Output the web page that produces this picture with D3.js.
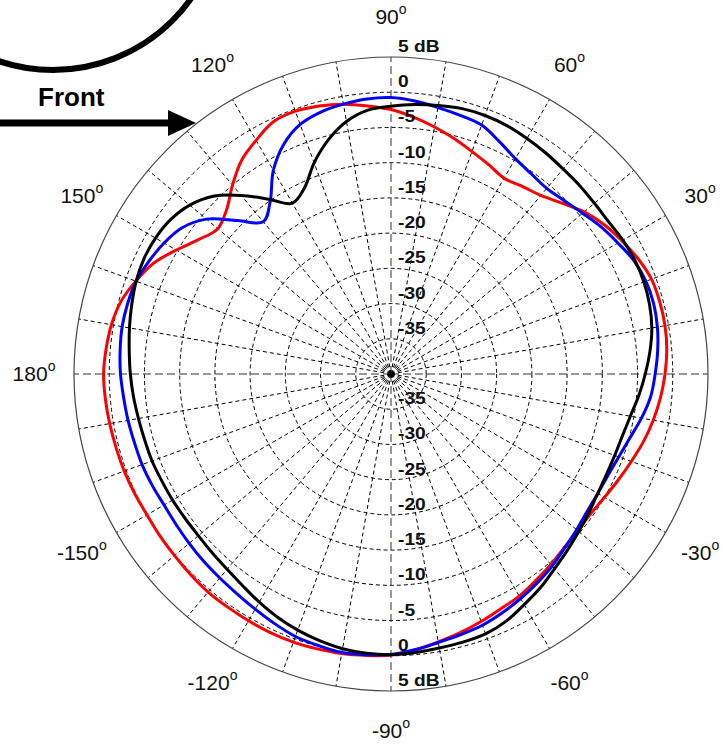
<!DOCTYPE html>
<html>
<head>
<meta charset="utf-8">
<script src="https://cdn.jsdelivr.net/npm/d3@7"></script>
<style>
  body { margin: 0; background: #fff; }
  svg { display: block; font-family: Arial, "Liberation Sans", sans-serif; }
</style>
</head>
<body>
<div id="chart"></div>
<script>
'use strict';

// measurement angles (deg, counter-clockwise from the right)
const angles = [0, 5, 10, 15, 20, 25, 30, 35, 40, 45, 50, 55, 60, 65, 70, 75, 80, 85,
  90, 95, 100, 105, 110, 115, 120, 125, 130, 135, 140, 145, 150, 155, 160, 165, 170, 175,
  180, 185, 190, 195, 200, 205, 210, 215, 220, 225, 230, 235, 240, 245, 250, 255, 260, 265,
  270, 275, 280, 285, 290, 295, 300, 305, 310, 315, 320, 325, 330, 335, 340, 345, 350, 355];

// levels in dB, one per angle
const redDb = [-1.1, -0.7, -0.5, -0.5, -0.65, -1.3, -2.15, -3.05, -4.2, -5.7, -6.9, -7.5,
  -7.9, -7.2, -6.4, -5.4, -4.4, -3.4, -2.45, -1.8, -1.1, -0.6, -0.3, -0.5, -1.7, -3.0,
  -5.0, -7.0, -7.9, -6.7, -4.8, -2.8, -1.45, -0.3, 0.3, 0.6, 0.8, 0.7, 0.55, 0.4,
  0.3, 0.15, 0.0, 0.05, 0.1, 0.25, 0.4, 0.4, 0.45, 0.5, 0.5, 0.4, 0.3, 0.1,
  -0.1, -0.7, -1.4, -2.0, -2.6, -3.2, -3.6, -4.2, -4.7, -5.2, -5.4, -5.4, -5.0, -4.4,
  -3.7, -2.9, -2.2, -1.6];

const blueDb = [-2.5, -2.0, -1.6, -1.4, -1.5, -1.95, -2.8, -3.6, -4.5, -5.2, -5.6, -5.3,
  -4.7, -3.6, -2.4, -2.0, -1.6, -1.1, -0.75, -0.8, -1.1, -1.5, -2.3, -4.0, -6.6, -10.1,
  -11.8, -9.2, -5.8, -3.8, -2.8, -2.1, -1.5, -1.3, -1.25, -1.4, -1.6, -1.9, -2.1, -2.3,
  -2.4, -2.6, -2.8, -2.75, -2.6, -2.4, -2.2, -1.9, -1.45, -0.9, -0.35, -0.1, 0.15, 0.0,
  -0.2, -0.7, -1.3, -1.7, -2.05, -2.6, -3.2, -3.8, -4.4, -5.1, -5.6, -6.0, -6.1, -6.0,
  -5.6, -4.9, -3.9, -3.0];

const blackDb = [-3.9, -3.1, -2.4, -2.0, -1.8, -1.8, -2.0, -2.3, -2.3, -2.15, -2.0, -1.7,
  -1.4, -1.1, -0.95, -1.0, -1.3, -1.6, -2.0, -2.4, -3.6, -5.6, -8.1, -10.9, -12.0, -9.7,
  -6.9, -4.3, -2.7, -1.8, -1.4, -1.3, -1.5, -1.9, -2.3, -2.7, -3.0, -3.3, -3.6, -3.8,
  -3.9, -4.1, -4.2, -4.3, -4.3, -4.1, -3.8, -3.3, -2.6, -1.9, -1.3, -0.8, -0.4, -0.2,
  -0.15, -0.3, -0.5, -0.6, -0.75, -1.3, -2.2, -3.0, -3.9, -4.6, -5.2, -5.7, -6.1, -6.25,
  -6.2, -6.0, -5.5, -4.7];

// ring values and their labels
const dbRings = [5, 0, -5, -10, -15, -20, -25, -30, -35];
const dbLabels = ['5 dB', '0', '-5', '-10', '-15', '-20', '-25', '-30', '-35'];

// angle tick labels (the 0 label falls outside the picture)
const angleTicks = [30, 60, 90, 120, 150, 180, -150, -120, -90, -60, -30];

(function() {

  const width = 723;
  const height = 748;
  const cx = 391;
  const cy = 374;
  const rad = Math.PI / 180;

  let svg = null;
  let rScale = null;

  window.onload = function() {
    svg = d3.select('#chart')
      .append('svg')
      .attr('width', width)
      .attr('height', height);

    rScale = d3.scaleLinear()
      .domain([-40, 5])
      .range([0, 317]);

    drawDevice();
    let plot = svg.append('g').attr('transform', `translate(${cx}, ${cy})`);
    drawGrid(plot);
    drawCurves(plot);
    drawLabels(plot);
  };

  // the loudspeaker outline and "Front" arrow in the corner
  function drawDevice() {
    svg.append('circle')
      .attr('cx', 53)
      .attr('cy', -99)
      .attr('r', 169)
      .attr('fill', 'none')
      .attr('stroke', '#000')
      .attr('stroke-width', 6);

    svg.append('line')
      .attr('x1', 0).attr('y1', 123)
      .attr('x2', 172).attr('y2', 123)
      .attr('stroke', '#000')
      .attr('stroke-width', 7);

    svg.append('path')
      .attr('d', 'M168,110 L196,123 L168,136 Z')
      .attr('fill', '#000');

    svg.append('text')
      .attr('x', 38)
      .attr('y', 106)
      .style('font-size', '26px')
      .style('font-weight', 'bold')
      .text('Front');
  }

  // dashed rings and spokes
  function drawGrid(g) {
    let outer = rScale(5);

    g.selectAll('.ring')
      .data(dbRings.filter((d) => d < 5))
      .enter()
      .append('circle')
        .attr('r', (d) => rScale(d))
        .attr('fill', 'none')
        .attr('stroke', '#000')
        .attr('stroke-width', 1)
        .attr('stroke-dasharray', '4,3');

    let spokes = d3.range(0, 360, 10);
    g.selectAll('.spoke')
      .data(spokes)
      .enter()
      .append('line')
        .attr('x1', 0)
        .attr('y1', 0)
        .attr('x2', (d) => outer * Math.cos(d * rad))
        .attr('y2', (d) => -outer * Math.sin(d * rad))
        .attr('stroke', (d) => d % 90 === 0 ? '#333' : '#000')
        .attr('stroke-width', 1)
        .attr('stroke-dasharray', (d) => d % 90 === 0 ? '8,4' : '4,3');

    g.append('circle')
      .attr('r', outer)
      .attr('fill', 'none')
      .attr('stroke', '#444')
      .attr('stroke-width', 1.2);
  }

  // the three polar responses
  function drawCurves(g) {
    let line = d3.lineRadial()
      .angle((d) => (90 - d.angle) * rad)
      .radius((d) => rScale(d.db))
      .curve(d3.curveCatmullRomClosed.alpha(0.5));

    let series = [
      { color: '#ff0000', values: redDb },
      { color: '#0000ff', values: blueDb },
      { color: '#000000', values: blackDb }
    ];

    series.forEach((s) => {
      let pts = angles.map((a, i) => ({ angle: a, db: s.values[i] }));
      g.append('path')
        .datum(pts)
        .attr('fill', 'none')
        .attr('stroke', s.color)
        .attr('stroke-width', 3)
        .attr('stroke-linejoin', 'round')
        .attr('d', line);
    });
  }

  // dB labels along the vertical axis, angle labels around the rim
  function drawLabels(g) {
    [-1, 1].forEach((side) => {
      g.selectAll('.db' + side)
        .data(dbRings)
        .enter()
        .append('text')
          .attr('transform', (d) => `translate(7, ${side * rScale(d) - 5}) scale(1.2, 1)`)
          .style('font-size', '16px')
          .style('font-weight', 'bold')
          .attr('fill', '#111')
          .text((d, i) => dbLabels[i]);
    });

    let labelR = 357;
    let tick = g.selectAll('.angle')
      .data(angleTicks)
      .enter()
      .append('text')
        .attr('x', (d) => labelR * Math.cos(d * rad))
        .attr('y', (d) => -labelR * Math.sin(d * rad) + 7)
        .attr('text-anchor', 'middle')
        .attr('fill', '#111')
        .style('font-size', '21px');
    tick.append('tspan').text((d) => d);
    tick.append('tspan')
      .attr('dy', -10)
      .style('font-size', '14px')
      .text('o');
  }

})();
</script>
</body>
</html>
